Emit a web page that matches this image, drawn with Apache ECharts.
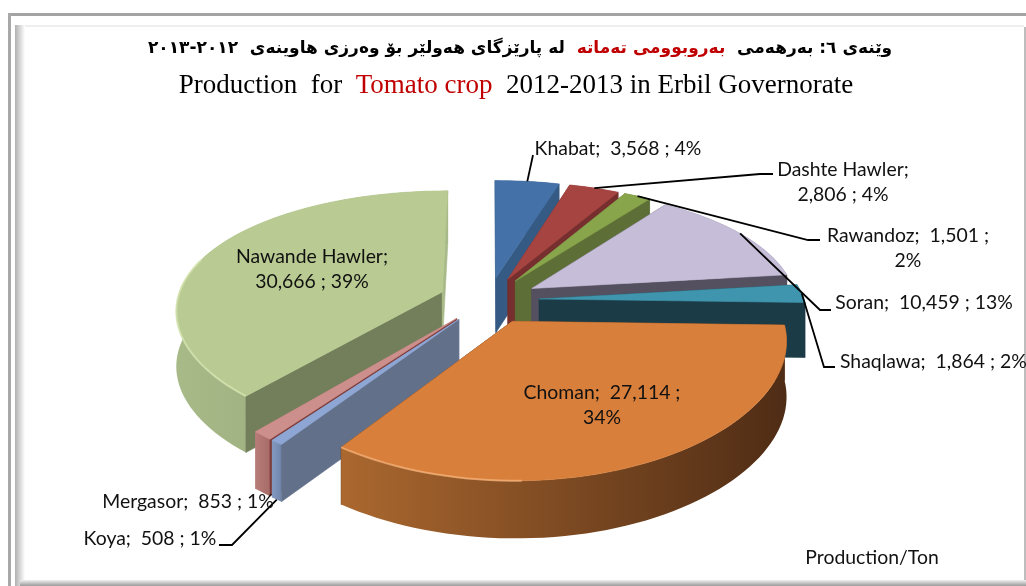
<!DOCTYPE html>
<html><head><meta charset="utf-8">
<style>html,body{margin:0;padding:0;background:#fff}#c{width:1026px;height:586px}</style>
<script src="https://cdn.jsdelivr.net/npm/echarts@6/dist/echarts.min.js"></script>
</head><body><div id="c"></div>
<script>
const categories = ['Khabat','Dashte Hawler','Rawandoz','Soran','Shaqlawa','Choman','Koya','Mergasor','Nawande Hawler'];
const production = [3568,2806,1501,10459,1864,27114,508,853,30666];
const drawOrder = [0,1,2,3,4,8,7,6,5];
const topColors = ['#4472a8','#a64441','#88a54c','#c6bdd8','#3f95ad','#d87f3b','#8ea6d3','#cd8f8b','#b9cb92'];
const faceColors = ['#355a83','#762f2e','#5d6f36','#55505f','#1b3b47','#55301a','#63708a','#7d3d3b','#727f5a'];
const rimColors = [['#355a83','#355a83'],['#762f2e','#762f2e'],['#5d6f36','#5d6f36'],['#55505f','#55505f'],['#1b3b47','#1f4452'],['#ab682f','#4f2c15'],['#8499c0','#7186ab'],['#b87c78','#a86c68'],['#a8ba88','#8f9f72']];
const glowColors = ['#4472a8','#a64441','#88a54c','#c6bdd8','#3f95ad','#f4b27a','#a9bfe6','#dca8a4','#d5e4b2'];
const labelBreak = [false,'name',true,false,false,true,false,false,'name'];
const labelAnchor = [[618,149,'center'],[843,182,'center'],[908,248,'center'],[924,303,'center'],[840,362,'left'],[602,405,'center'],[150,539,'center'],[188,502,'center'],[312,269,'center']];
const leaderBends = [[[533,155]],[[760,174],[773,174]],[[808,240],[820,240]],[[820,310],[831,310]],[[824,367],[835,367]],null,[[232,545],[219,545]],null,null];
const unitLabel = 'Production/Ton';

const CX=489, CY=300, RX=265, RY=122, PERSP=0.18, PERSP_X=0.135, EXPLODE=0.19;
const total = production.reduce((a,b)=>a+b,0);
const starts = []; production.reduce((acc,v,i)=>{starts[i]=acc;return acc+v;},0);
function project(X,Y,down){
  const s=1/(1+PERSP*Y), sx=1/(1+PERSP_X*Y);
  return [CX+X*RX*sx, CY-Y*RY*s+(down?45+10*s:0)];
}
function fmt(v){return v.toString().replace(/\B(?=(\d{3})+$)/g,',');}
function labelText(i){
  const n=categories[i], v=fmt(production[i]), p=Math.round(production[i]/total*100)+'%';
  if(labelBreak[i]==='name') return n+';\n'+v+' ; '+p;
  if(labelBreak[i]===true) return n+';  '+v+' ;\n'+p;
  return n+';  '+v+' ; '+p;
}
function poly(pts,fill,extra){
  return Object.assign({type:'polygon',silent:true,shape:{points:pts},
    style:{fill:fill,stroke:typeof fill==='string'?fill:null,lineWidth:typeof fill==='string'?0.6:0}},extra||{});
}
function renderItem(params,api){
  const i=api.value(0), v=api.value(1);
  const a0=starts[i]/total*2*Math.PI, a1=(starts[i]+v)/total*2*Math.PI, mid=(a0+a1)/2;
  const ox=Math.sin(mid)*EXPLODE, oy=Math.cos(mid)*EXPLODE;
  const rim=(a)=>[ox+Math.sin(a),oy+Math.cos(a)];
  const angs=[]; const n=Math.max(2,Math.ceil((a1-a0)/(Math.PI/90)));
  for(let k=0;k<=n;k++) angs.push(a0+(a1-a0)*k/n);
  const topArc=angs.map(a=>project(...rim(a),false));
  const botArc=angs.map(a=>project(...rim(a),true));
  const apexT=project(ox,oy,false), apexB=project(ox,oy,true);
  const startWall=[apexT,topArc[0],botArc[0],apexB];
  const endWall=[apexT,topArc[n],botArc[n],apexB];
  const endColor=mid>Math.PI?rimColors[i][0]:faceColors[i];
  const midPt=topArc[Math.floor(n/2)];
  const side=(p,q,r)=>{ // is r above the line p-q on screen?
    const dx=q[0]-p[0]; if(Math.abs(dx)<1e-6) return false;
    return r[1] < p[1]+(q[1]-p[1])*(r[0]-p[0])/dx;
  };
  const startVisible=side(apexT,topArc[0],midPt), endVisible=side(apexT,topArc[n],midPt);
  const children=[];
  const grad=new echarts.graphic.LinearGradient(0,0,1,0,[{offset:0,color:rimColors[i][0]},{offset:1,color:rimColors[i][1]}]);
  if(!startVisible) children.push(poly(startWall,faceColors[i]));
  if(!endVisible) children.push(poly(endWall,endColor));
  children.push(poly(topArc.concat(botArc.slice().reverse()),grad));
  if(startVisible) children.push(poly(startWall,faceColors[i]));
  if(endVisible) children.push(poly(endWall,endColor));
  children.push(poly([apexT].concat(topArc),topColors[i]));
  const front=angs.filter(a=>Math.sin(a)<0.05&&Math.cos(a)<0.3).map(a=>project(...rim(a),false));
  if(front.length>1 && v>5000){
    children.push({type:'polyline',silent:true,shape:{points:front},style:{stroke:glowColors[i],lineWidth:2,fill:null,opacity:0.75}});
  }
  const bends=leaderBends[i];
  if(bends){
    const start=project(...rim(mid),i===6);
    children.push({type:'polyline',silent:true,z2:20,shape:{points:[start].concat(bends)},style:{stroke:'#000',lineWidth:1.8,fill:null}});
  }
  const la=labelAnchor[i];
  children.push({type:'text',silent:true,z2:30,x:la[0],y:la[1],style:{text:labelText(i),fill:'#111',font:'19.4px Lato',align:la[2],verticalAlign:'middle',lineHeight:25.5}});
  return {type:'group',children:children};
}
const kuRight='\u0648\u06ce\u0646\u06d5\u06cc \u0666: \u0628\u06d5\u0631\u0647\u06d5\u0645\u06cc  ';
const kuRed='\u0628\u06d5\u0631\u0648\u0628\u0648\u0648\u0645\u06cc \u062a\u06d5\u0645\u0627\u062a\u06d5';
const kuLeft='\u0644\u06d5 \u067e\u0627\u0631\u06ce\u0632\u06af\u0627\u06cc \u0647\u06d5\u0648\u0644\u06ce\u0631 \u0628\u06c6 \u0648\u06d5\u0631\u0632\u06cc \u0647\u0627\u0648\u06cc\u0646\u06d5\u06cc  \u0662\u0660\u0661\u0662-\u0662\u0660\u0661\u0663';
const kuFont={fontFamily:'DejaVu Sans',fontWeight:'bold',fontSize:17,lineHeight:20};
const enFont={fontFamily:'Liberation Serif',fontWeight:'normal',fontSize:27,lineHeight:30};
const option={
  animation:false,
  backgroundColor:'#fff',
  title:[
    {left:526,top:39,textAlign:'center',text:'{k|'+kuLeft+'  }{r|'+kuRed+'}{k|  '+kuRight+'}',
     textStyle:{rich:{k:Object.assign({color:'#000'},kuFont),r:Object.assign({color:'#c00000'},kuFont)}},padding:0},
    {left:516,top:71,textAlign:'center',text:'{k|Production  for  }{r|Tomato crop}{k|  2012-2013 in Erbil Governorate}',
     textStyle:{fontWeight:'normal',rich:{k:Object.assign({color:'#000'},enFont),r:Object.assign({color:'#c00000'},enFont)}},padding:0}
  ],
  graphic:[
    {type:'rect',silent:true,shape:{x:8,y:13,width:1018,height:3},style:{fill:'#a3a3a3'}},
    {type:'rect',silent:true,shape:{x:8,y:13,width:3,height:573},style:{fill:'#a8a8a8'}},
    {type:'rect',silent:true,shape:{x:15,y:25,width:1009,height:2},style:{fill:'#eeeeee'}},
    {type:'rect',silent:true,shape:{x:15,y:25,width:10,height:561},style:{fill:new echarts.graphic.LinearGradient(0,0,1,0,[{offset:0,color:'#b0b0b0'},{offset:1,color:'#ffffff'}])}},
    {type:'rect',silent:true,shape:{x:1024,y:27,width:2,height:559},style:{fill:'#bdbdbd'}},
    {type:'rect',silent:true,shape:{x:20,y:580,width:1006,height:6},style:{fill:new echarts.graphic.LinearGradient(0,0,0,1,[{offset:0,color:'#f0f0f0'},{offset:1,color:'#9a9a9a'}])}},
    {type:'text',silent:true,x:872,y:558,z:5,style:{text:unitLabel,fill:'#111',font:'19.4px Lato',align:'center',verticalAlign:'middle'}}
  ],
  series:[{type:'custom',coordinateSystem:'none',renderItem:renderItem,clip:false,silent:true,
    data:drawOrder.map(i=>[i,production[i]])}]
};
echarts.init(document.getElementById('c'),null,{renderer:'canvas'}).setOption(option);
</script></body></html>
